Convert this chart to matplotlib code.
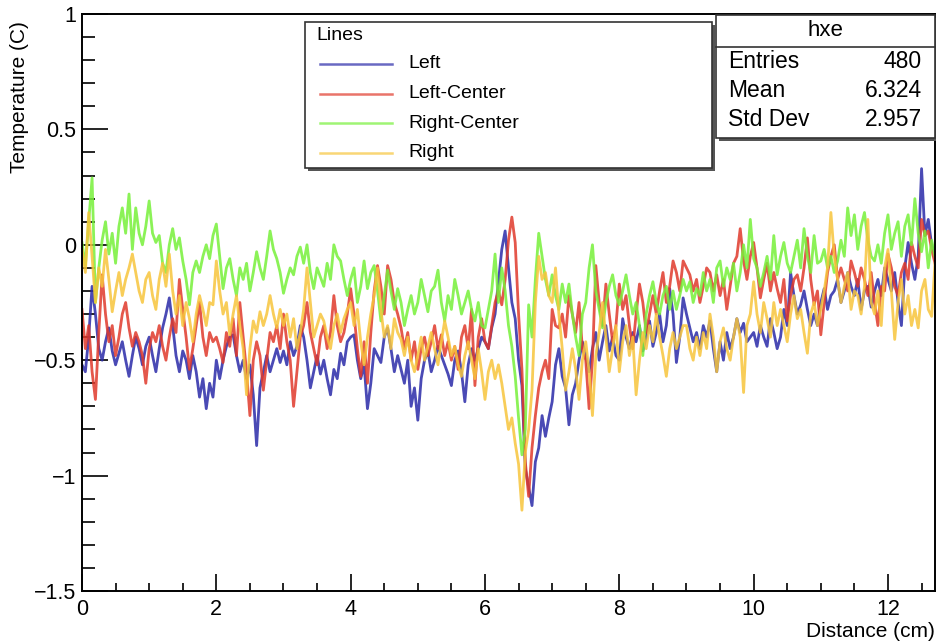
import numpy as np
import matplotlib.pyplot as plt
from matplotlib.lines import Line2D
from matplotlib.patches import Rectangle
from matplotlib.ticker import MultipleLocator, FuncFormatter

plt.rcParams['font.family'] = ['Liberation Sans', 'DejaVu Sans']

# temperature readings (C), one value every 0.05 cm from 0 to 12.7 cm
left = [
    -0.52, -0.55, -0.40, -0.18, -0.30, -0.45, -0.50, -0.42, -0.36, -0.46, -0.52, -0.47, -0.42, -0.50, -0.57, -0.48, -0.40, -0.45, -0.52, -0.44,
    -0.40, -0.48, -0.55, -0.45, -0.36, -0.30, -0.23, -0.35, -0.48, -0.55, -0.46, -0.50, -0.58, -0.48, -0.55, -0.66, -0.58, -0.71, -0.60, -0.66,
    -0.50, -0.58, -0.50, -0.44, -0.40, -0.39, -0.48, -0.55, -0.50, -0.58, -0.52, -0.65, -0.87, -0.62, -0.55, -0.48, -0.55, -0.50, -0.45, -0.51,
    -0.46, -0.52, -0.42, -0.48, -0.44, -0.35, -0.40, -0.50, -0.62, -0.55, -0.48, -0.56, -0.50, -0.58, -0.65, -0.54, -0.58, -0.47, -0.52, -0.42,
    -0.40, -0.39, -0.50, -0.58, -0.52, -0.71, -0.60, -0.45, -0.48, -0.51, -0.40, -0.36, -0.45, -0.55, -0.48, -0.54, -0.60, -0.50, -0.70, -0.62,
    -0.76, -0.58, -0.50, -0.46, -0.55, -0.50, -0.44, -0.48, -0.52, -0.56, -0.61, -0.50, -0.46, -0.55, -0.68, -0.52, -0.45, -0.50, -0.45, -0.40,
    -0.42, -0.45, -0.36, -0.30, -0.16, -0.02, 0.06, -0.10, -0.25, -0.32, -0.50, -0.61, -0.97, -1.05, -1.13, -0.94, -0.88, -0.74, -0.83, -0.75,
    -0.68, -0.52, -0.45, -0.57, -0.62, -0.78, -0.65, -0.60, -0.50, -0.42, -0.48, -0.55, -0.45, -0.38, -0.50, -0.42, -0.35, -0.46, -0.40, -0.48,
    -0.50, -0.32, -0.40, -0.45, -0.38, -0.42, -0.35, -0.46, -0.40, -0.33, -0.44, -0.38, -0.30, -0.42, -0.35, -0.19, -0.30, -0.51, -0.40, -0.23,
    -0.30, -0.36, -0.42, -0.38, -0.45, -0.35, -0.40, -0.33, -0.45, -0.55, -0.42, -0.50, -0.38, -0.45, -0.40, -0.32, -0.38, -0.34, -0.42, -0.40,
    -0.38, -0.44, -0.35, -0.40, -0.44, -0.32, -0.38, -0.45, -0.40, -0.28, -0.35, -0.12, -0.22, -0.30, -0.26, -0.20, -0.28, -0.35, -0.30, -0.35,
    -0.25, -0.19, -0.28, -0.22, -0.20, -0.15, -0.25, -0.20, -0.12, -0.18, -0.22, -0.15, -0.28, -0.20, -0.18, -0.27, -0.20, -0.15, -0.22, -0.10,
    -0.15, -0.20, -0.12, -0.25, -0.35, -0.10, 0.01, -0.08, -0.15, -0.05, 0.33, 0.04, 0.11, 0.00, -0.04,
]
left_center = [
    -0.28, -0.45, -0.35, -0.55, -0.67, -0.38, -0.13, -0.30, -0.42, -0.35, -0.48, -0.40, -0.30, -0.25, -0.36, -0.44, -0.38, -0.42, -0.48, -0.60,
    -0.45, -0.38, -0.42, -0.35, -0.44, -0.50, -0.40, -0.32, -0.38, -0.15, -0.28, -0.40, -0.54, -0.45, -0.35, -0.25, -0.40, -0.48, -0.38, -0.42,
    -0.40, -0.45, -0.51, -0.38, -0.44, -0.32, -0.48, -0.25, -0.40, -0.55, -0.74, -0.50, -0.42, -0.48, -0.63, -0.50, -0.38, -0.42, -0.35, -0.45,
    -0.30, -0.42, -0.50, -0.70, -0.55, -0.40, -0.35, -0.25, -0.38, -0.45, -0.52, -0.40, -0.35, -0.45, -0.38, -0.22, -0.35, -0.42, -0.38, -0.30,
    -0.19, -0.30, -0.45, -0.57, -0.42, -0.60, -0.38, -0.20, -0.09, -0.18, -0.30, -0.09, -0.15, -0.25, -0.30, -0.36, -0.45, -0.38, -0.50, -0.42,
    -0.54, -0.45, -0.40, -0.48, -0.42, -0.35, -0.45, -0.39, -0.48, -0.42, -0.50, -0.44, -0.54, -0.40, -0.35, -0.45, -0.28, -0.61, -0.40, -0.32,
    -0.42, -0.45, -0.35, -0.25, -0.20, -0.26, -0.15, 0.02, 0.12, 0.01, -0.30, -0.54, -0.94, -1.09, -0.88, -0.74, -0.62, -0.55, -0.50, -0.58,
    -0.28, -0.35, -0.36, -0.30, -0.40, -0.22, -0.30, -0.38, -0.25, -0.45, -0.50, -0.71, -0.50, -0.09, -0.25, -0.35, -0.17, -0.30, -0.42, -0.35,
    -0.17, -0.28, -0.22, -0.35, -0.45, -0.30, -0.17, -0.25, -0.38, -0.30, -0.22, -0.30, -0.20, -0.12, -0.25, -0.18, -0.07, -0.12, -0.20, -0.07,
    -0.10, -0.13, -0.20, -0.15, -0.25, -0.18, -0.10, -0.12, -0.20, -0.13, -0.22, -0.15, -0.28, -0.18, -0.08, -0.05, 0.07, -0.07, -0.15, -0.05,
    0.01, -0.10, -0.23, -0.15, -0.08, -0.20, -0.12, -0.19, -0.25, -0.15, -0.33, -0.22, -0.15, -0.13, -0.20, -0.10, 0.03, -0.15, -0.26, -0.20,
    -0.39, -0.25, -0.12, -0.05, 0.00, -0.15, -0.10, -0.15, -0.20, -0.07, -0.12, -0.18, -0.10, -0.15, -0.22, -0.12, -0.25, -0.35, -0.18, -0.20,
    -0.04, -0.10, -0.18, -0.22, -0.12, -0.08, -0.15, 0.01, -0.05, -0.10, 0.11, 0.04, 0.06, -0.02, -0.08,
]
right_center = [
    0.01, -0.09, 0.10, 0.29, -0.25, -0.10, 0.02, 0.10, -0.04, 0.05, -0.08, 0.08, 0.16, 0.05, 0.22, -0.02, 0.16, 0.05, 0.00, 0.08,
    0.19, 0.05, 0.01, 0.04, -0.08, -0.12, 0.00, 0.07, -0.02, 0.03, -0.07, -0.15, -0.26, -0.12, -0.07, -0.12, -0.05, 0.00, -0.06, 0.04,
    0.09, -0.05, -0.19, -0.10, -0.06, -0.15, -0.22, -0.10, -0.15, -0.08, -0.20, -0.12, -0.03, -0.10, -0.15, -0.05, 0.06, -0.02, -0.06, -0.12,
    -0.21, -0.15, -0.10, -0.13, -0.05, -0.01, -0.08, 0.00, -0.12, -0.19, -0.10, -0.14, -0.18, -0.08, -0.15, 0.00, -0.05, -0.07, -0.15, -0.22,
    -0.15, -0.10, -0.25, -0.18, -0.07, -0.19, -0.12, -0.09, -0.20, -0.33, -0.22, -0.11, -0.20, -0.28, -0.19, -0.25, -0.35, -0.28, -0.22, -0.30,
    -0.25, -0.15, -0.22, -0.29, -0.20, -0.18, -0.11, -0.25, -0.33, -0.22, -0.28, -0.15, -0.22, -0.30, -0.25, -0.20, -0.28, -0.33, -0.25, -0.35,
    -0.36, -0.28, -0.20, -0.04, -0.25, -0.10, -0.20, -0.35, -0.44, -0.57, -0.75, -0.91, -0.80, -0.26, -0.40, -0.15, 0.05, -0.05, -0.15, -0.22,
    -0.13, -0.22, -0.28, -0.17, -0.25, -0.17, -0.30, -0.40, -0.48, -0.30, -0.25, -0.10, 0.00, -0.20, -0.28, -0.36, -0.25, -0.18, -0.13, -0.22,
    -0.26, -0.20, -0.13, -0.22, -0.30, -0.25, -0.35, -0.48, -0.30, -0.22, -0.16, -0.25, -0.30, -0.22, -0.18, -0.28, -0.20, -0.28, -0.22, -0.15,
    -0.20, -0.16, -0.25, -0.19, -0.22, -0.12, -0.20, -0.15, -0.25, -0.10, -0.07, -0.18, -0.10, -0.15, -0.08, -0.20, -0.12, 0.00, -0.10, 0.11,
    -0.06, -0.10, -0.18, -0.12, -0.05, -0.15, 0.04, -0.13, -0.05, 0.01, -0.08, -0.12, -0.05, 0.02, -0.10, 0.07, -0.05, -0.12, 0.04, -0.08,
    -0.07, -0.02, -0.10, -0.05, -0.12, -0.07, 0.02, -0.05, 0.16, 0.04, 0.13, -0.02, 0.08, 0.14, 0.02, -0.05, -0.07, 0.00, -0.08, 0.05,
    0.13, -0.02, 0.05, 0.10, -0.05, 0.08, 0.13, 0.00, 0.20, 0.05, -0.03, 0.06, -0.10, 0.02, -0.05,
]
right = [
    -0.02, -0.12, 0.14, -0.05, -0.25, -0.10, -0.18, -0.02, -0.15, -0.29, -0.20, -0.12, -0.22, -0.15, -0.10, -0.04, -0.12, -0.20, -0.25, -0.15,
    -0.12, -0.22, -0.28, -0.15, -0.08, -0.18, -0.04, -0.20, -0.30, -0.22, -0.35, -0.25, -0.32, -0.42, -0.30, -0.22, -0.28, -0.35, -0.25, -0.26,
    -0.07, -0.20, -0.30, -0.25, -0.39, -0.30, -0.22, -0.35, -0.45, -0.65, -0.45, -0.33, -0.38, -0.29, -0.35, -0.30, -0.22, -0.30, -0.36, -0.28,
    -0.35, -0.30, -0.40, -0.32, -0.45, -0.38, -0.28, -0.10, -0.25, -0.40, -0.35, -0.30, -0.33, -0.40, -0.45, -0.35, -0.30, -0.38, -0.32, -0.28,
    -0.25, -0.35, -0.28, -0.42, -0.52, -0.40, -0.30, -0.22, -0.10, -0.28, -0.40, -0.35, -0.45, -0.32, -0.38, -0.41, -0.48, -0.40, -0.50, -0.55,
    -0.48, -0.40, -0.50, -0.44, -0.38, -0.45, -0.52, -0.42, -0.33, -0.40, -0.48, -0.44, -0.52, -0.57, -0.48, -0.42, -0.50, -0.58, -0.45, -0.55,
    -0.67, -0.55, -0.50, -0.58, -0.52, -0.60, -0.70, -0.80, -0.75, -0.86, -0.95, -1.15, -0.90, -0.80, -0.63, -0.25, -0.05, -0.15, -0.12, -0.22,
    -0.25, -0.10, -0.30, -0.45, -0.63, -0.55, -0.45, -0.54, -0.67, -0.50, -0.42, -0.55, -0.74, -0.48, -0.38, -0.25, -0.40, -0.55, -0.45, -0.35,
    -0.55, -0.42, -0.35, -0.48, -0.40, -0.65, -0.50, -0.38, -0.45, -0.35, -0.42, -0.30, -0.40, -0.48, -0.57, -0.45, -0.38, -0.45, -0.40, -0.35,
    -0.35, -0.45, -0.50, -0.40, -0.48, -0.38, -0.45, -0.30, -0.40, -0.55, -0.42, -0.36, -0.45, -0.50, -0.40, -0.32, -0.40, -0.64, -0.35, -0.30,
    -0.16, -0.30, -0.38, -0.25, -0.32, -0.40, -0.25, -0.35, -0.28, -0.35, -0.42, -0.30, -0.22, -0.32, -0.28, -0.38, -0.47, -0.30, -0.25, -0.35,
    -0.28, -0.20, -0.10, 0.14, -0.05, -0.15, -0.25, -0.18, -0.12, -0.28, -0.20, -0.22, -0.30, -0.18, 0.11, -0.25, -0.30, -0.20, -0.35, -0.10,
    -0.02, -0.20, -0.41, -0.25, -0.15, -0.30, -0.22, -0.35, -0.28, -0.36, -0.20, -0.15, -0.28, -0.31, -0.08,
]

names = ['Left', 'Left-Center', 'Right-Center', 'Right']
colors = ['#2a2aa8', '#e0392b', '#77f03a', '#f7c53c']
stats_labels = ['Entries', 'Mean', 'Std Dev']
stats_values = ['480', '6.324', '2.957']

W, H = 937, 644
def fx(px):
    return px / W
def fy(py):
    return 1 - py / H

fig = plt.figure(figsize=(W / 100, H / 100), dpi=100)
ax = fig.add_axes([fx(82), fy(591), (935 - 82) / W, (591 - 14) / H])

for y, c in zip([left, left_center, right_center, right], colors):
    x = np.linspace(0, 12.7, len(y))
    ax.plot(x, y, color=c, lw=2.0, alpha=0.85)

ax.set_xlim(0, 12.7)
ax.set_ylim(-1.5, 1)
ax.xaxis.set_major_locator(MultipleLocator(2))
ax.xaxis.set_minor_locator(MultipleLocator(0.5))
ax.yaxis.set_major_locator(MultipleLocator(0.5))
ax.yaxis.set_minor_locator(MultipleLocator(0.1))
fmt = FuncFormatter(lambda v, _: f"{v:g}".replace('-', '\u2212'))
ax.xaxis.set_major_formatter(fmt)
ax.yaxis.set_major_formatter(fmt)
ax.tick_params(axis='both', which='both', direction='in', top=False, right=False,
               width=1.2, labelsize=15.5)
ax.tick_params(axis='y', which='major', length=18.5, pad=4)
ax.tick_params(axis='y', which='minor', length=9.5)
ax.tick_params(axis='x', which='major', length=12, pad=6)
ax.tick_params(axis='x', which='minor', length=6)
for s in ax.spines.values():
    s.set_linewidth(1.4)

ax.set_xlabel('Distance (cm)', loc='right', fontsize=15)
ax.set_ylabel('Temperature (C)', loc='top', fontsize=15)
ax.xaxis.set_label_coords(1.0, -0.053)
ax.yaxis.set_label_coords(-0.062, 0.988)

# legend box (ROOT style with shadow)
fig.add_artist(Rectangle((fx(308), fy(171)), (712 - 305) / W, (168 - 22) / H,
                         transform=fig.transFigure, facecolor='#555555', edgecolor='none'))
fig.add_artist(Rectangle((fx(305), fy(168)), (712 - 305) / W, (168 - 22) / H,
                         transform=fig.transFigure, facecolor='white', edgecolor='#333333', lw=1.2))
fig.text(fx(316), fy(35), 'Lines', fontsize=14, va='center', ha='left')
for i, (n, c) in enumerate(zip(names, colors)):
    yy = fy(64 + i * 29.5)
    fig.add_artist(Line2D([fx(320), fx(392)], [yy, yy], transform=fig.transFigure,
                          color=c, lw=1.8, alpha=0.7))
    fig.text(fx(408), yy, n, fontsize=14, va='center', ha='left')

# stats box
fig.add_artist(Rectangle((fx(719), fy(141)), (935 - 716) / W, (138 - 15) / H,
                         transform=fig.transFigure, facecolor='#555555', edgecolor='none'))
fig.add_artist(Rectangle((fx(716), fy(138)), (935 - 716) / W, (138 - 15) / H,
                         transform=fig.transFigure, facecolor='white', edgecolor='#333333', lw=1.2))
fig.add_artist(Line2D([fx(716), fx(935)], [fy(47), fy(47)], transform=fig.transFigure,
                      color='#333333', lw=1.2))
fig.text(fx(825), fy(31), 'hxe', fontsize=16, va='center', ha='center')
for i, (lab, val) in enumerate(zip(stats_labels, stats_values)):
    yy = fy(61 + i * 29.5)
    fig.text(fx(728), yy, lab, fontsize=16.5, va='center', ha='left')
    fig.text(fx(922), yy, val, fontsize=16.5, va='center', ha='right')

fig.savefig('out.png', dpi=100)
